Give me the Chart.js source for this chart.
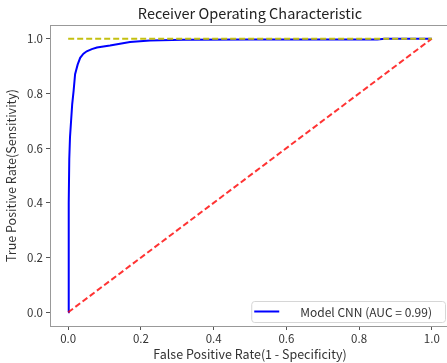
<!DOCTYPE html>
<html>
<head>
<meta charset="utf-8">
<script src="https://cdn.jsdelivr.net/npm/chart.js@4/dist/chart.umd.min.js"></script>
<style>
  html, body { margin: 0; padding: 0; background: #fff; overflow: hidden; }
  #wrap { width: 500px; height: 363px; }
</style>
</head>
<body>
<div id="wrap"><canvas id="canvas"></canvas></div>
<script>
var FONT = '"Noto Sans CJK KR", "Noto Sans", "DejaVu Sans", sans-serif';

// ROC curve
var fprCNN = [0.000, 0.001, 0.002, 0.003, 0.005, 0.008, 0.011, 0.015, 0.019, 0.026, 0.033, 0.042, 0.051, 0.065, 0.079, 0.115, 0.170, 0.225, 0.316, 0.500, 0.850, 0.870, 1.000];
var tprCNN = [0.000, 0.200, 0.400, 0.560, 0.640, 0.700, 0.760, 0.810, 0.870, 0.905, 0.930, 0.945, 0.954, 0.962, 0.968, 0.975, 0.988, 0.993, 0.996, 0.997, 0.997, 1.000, 1.000];

// reference lines
var diagX = [0, 1];
var diagY = [0, 1];
var perfectX = [0, 1];
var perfectY = [1, 1];

var xTicks = [0.0, 0.2, 0.4, 0.6, 0.8, 1.0];
var yTicks = [0.0, 0.2, 0.4, 0.6, 0.8, 1.0];

var titleText = 'Receiver Operating Characteristic';
var cnnLabel = 'Model CNN (AUC = 0.99)';

function pts(xs, ys) {
  return xs.map(function(x, i) { return { x: x, y: ys[i] }; });
}

function setTicks(list) {
  return function(scale) {
    scale.ticks = list.map(function(v) { return { value: v }; });
  };
}

// title centred over the axes, like matplotlib
var axTitle = {
  id: 'axTitle',
  afterDraw: function(chart) {
    var a = chart.chartArea, ctx = chart.ctx;
    ctx.save();
    ctx.font = '14.5px ' + FONT;
    ctx.fillStyle = '#222';
    ctx.textAlign = 'center';
    ctx.textBaseline = 'middle';
    ctx.fillText(titleText, (a.left + a.right) / 2, 13);
    ctx.restore();
  }
};

// frame line on top (matplotlib box)
var frame = {
  id: 'frame',
  afterDatasetsDraw: function(chart) {
    var a = chart.chartArea, ctx = chart.ctx;
    ctx.save();
    ctx.strokeStyle = '#999';
    ctx.lineWidth = 1;
    ctx.strokeRect(a.left + 0.5, a.top + 0.5, a.right - a.left, a.bottom - a.top);
    ctx.restore();
  }
};

// legend box in lower right of the axes
var boxLegend = {
  id: 'boxLegend',
  afterDraw: function(chart) {
    var a = chart.chartArea, ctx = chart.ctx;
    ctx.save();
    ctx.font = '12px ' + FONT;
    var tw = ctx.measureText(cnnLabel).width;
    var right = a.right - 5, bottom = a.bottom - 4;
    var w = 3 + 25 + 21 + tw + 13, h = 21;
    var left = right - w, top = bottom - h;
    ctx.beginPath();
    ctx.roundRect(left + 0.5, top + 0.5, w, h, 3);
    ctx.fillStyle = 'rgba(255,255,255,0.8)';
    ctx.fill();
    ctx.strokeStyle = '#d6d6d6';
    ctx.lineWidth = 1;
    ctx.stroke();
    var cy = top + h / 2;
    ctx.strokeStyle = '#0000ff';
    ctx.lineWidth = 2;
    ctx.beginPath();
    ctx.moveTo(left + 3, cy);
    ctx.lineTo(left + 28, cy);
    ctx.stroke();
    ctx.fillStyle = '#333';
    ctx.textBaseline = 'middle';
    ctx.fillText(cnnLabel, left + 49, cy + 0.5);
    ctx.restore();
  }
};

var config = {
  type: 'scatter',
  data: {
    datasets: [{
      label: cnnLabel,
      data: pts(fprCNN, tprCNN),
      borderColor: '#0000ff',
      borderWidth: 2,
      showLine: true,
      pointRadius: 0,
      fill: false,
      order: 2
    }, {
      label: 'diagonal',
      data: pts(diagX, diagY),
      borderColor: 'rgba(255,0,0,0.8)',
      borderWidth: 2,
      borderDash: [6, 3],
      showLine: true,
      pointRadius: 0,
      fill: false,
      order: 1
    }, {
      label: 'perfect',
      data: pts(perfectX, perfectY),
      borderColor: '#c4c010',
      borderWidth: 2,
      borderDash: [6, 3],
      showLine: true,
      pointRadius: 0,
      fill: false,
      order: 0
    }]
  },
  options: {
    responsive: true,
    maintainAspectRatio: false,
    animation: false,
    layout: { padding: { left: 0, right: 50, top: 25, bottom: 0 } },
    plugins: {
      legend: { display: false },
      tooltip: { enabled: false },
      title: { display: false }
    },
    scales: {
      x: {
        type: 'linear',
        min: -0.05,
        max: 1.05,
        afterBuildTicks: setTicks(xTicks),
        afterFit: function(scale) { scale.height = 37; },
        grid: { drawOnChartArea: false, drawTicks: true, tickLength: 4, color: '#555' },
        border: { display: true, color: '#999' },
        ticks: {
          color: '#333',
          padding: 2,
          font: { family: FONT, size: 11.5 },
          callback: function(v) { return v.toFixed(1); }
        },
        title: {
          display: true,
          text: 'False Positive Rate(1 - Specificity)',
          color: '#333',
          font: { family: FONT, size: 12.5 },
          padding: { top: 0, bottom: 1 }
        }
      },
      y: {
        type: 'linear',
        min: -0.05,
        max: 1.05,
        afterBuildTicks: setTicks(yTicks),
        afterFit: function(scale) { scale.width = 50; },
        grid: { drawOnChartArea: false, drawTicks: true, tickLength: 4, color: '#555' },
        border: { display: true, color: '#999' },
        ticks: {
          color: '#333',
          padding: 3,
          font: { family: FONT, size: 11.5 },
          callback: function(v) { return v.toFixed(1); }
        },
        title: {
          display: true,
          text: 'True Positive Rate(Sensitivity)',
          color: '#333',
          font: { family: FONT, size: 12.5 },
          padding: { top: 4, bottom: 0 }
        }
      }
    }
  },
  plugins: [axTitle, frame, boxLegend]
};

window.onload = function() {
  var ctx = document.getElementById('canvas').getContext('2d');
  window.myRoc = new Chart(ctx, config);
};
</script>
</body>
</html>
